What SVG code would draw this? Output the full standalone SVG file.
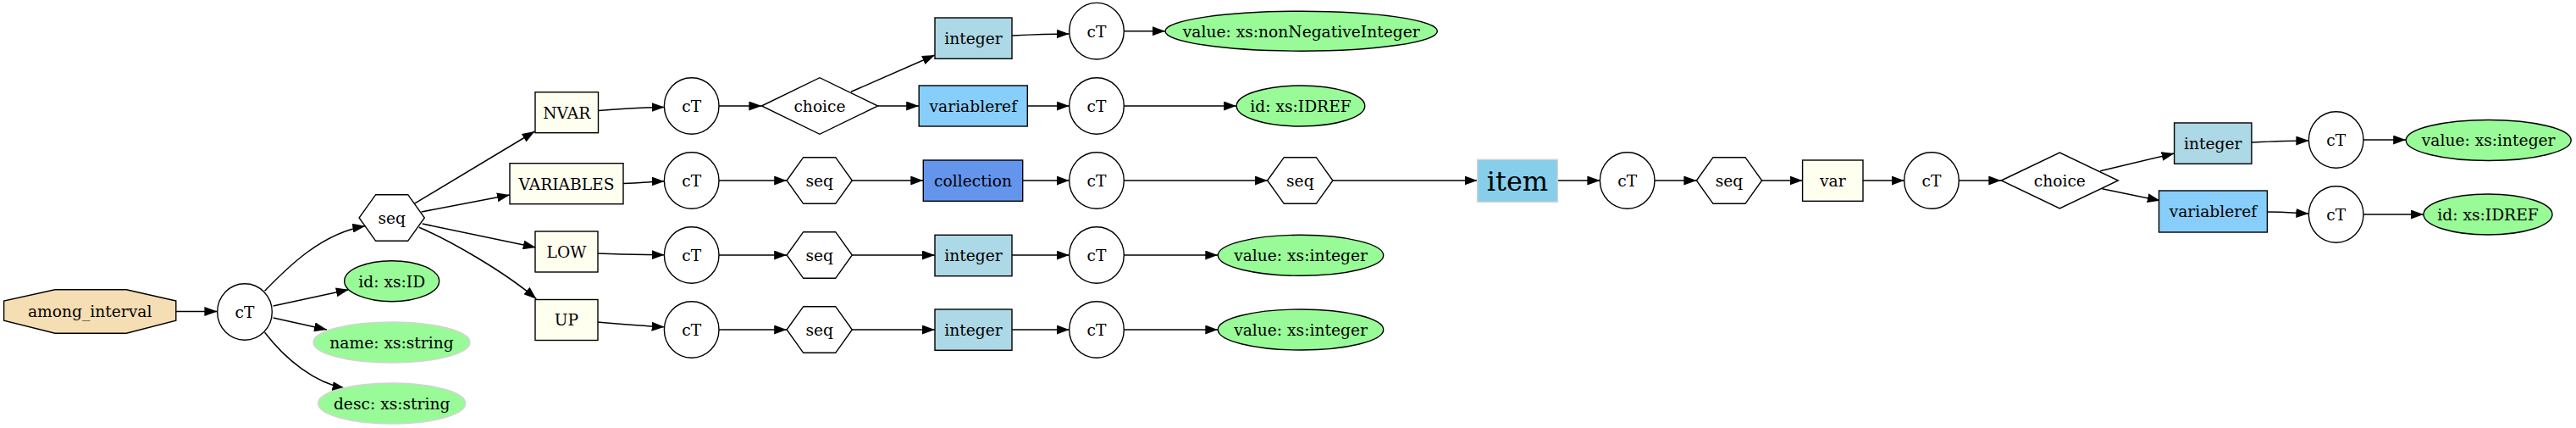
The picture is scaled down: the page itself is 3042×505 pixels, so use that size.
<svg xmlns="http://www.w3.org/2000/svg" xmlns:xlink="http://www.w3.org/1999/xlink" width="3042" height="505" viewBox="0 0 3042 505">
<style>
text{font-family:"DejaVu Serif","Liberation Serif",serif;font-size:18.67px;text-anchor:middle;fill:#000}
.n{stroke:#000;stroke-width:1.4}
.w{fill:#fff}
.iv{fill:#fffff0}
.ib{fill:#add8e6}
.vr{fill:#87cefa}
.gr{fill:#98fb98}
.gl{fill:#98fb98;stroke:#d3d3d3;stroke-width:1.4}
.e{fill:none;stroke:#000;stroke-width:1.5;marker-end:url(#ah)}
</style>
<defs>
<marker id="ah" markerUnits="userSpaceOnUse" markerWidth="15" markerHeight="11" viewBox="0 0 15 11" refX="15" refY="5.5" orient="auto"><path d="M0,0 L15,5.5 L0,11 z" fill="#000"/></marker>
<polygon id="hex" points="-38.6,0 -19,-27.3 19,-27.3 38.6,0 19,27.3 -19,27.3" class="n w"/>
<ellipse id="ct" cx="0" cy="0" rx="32.3" ry="33.3" class="n w"/>
</defs>
<rect width="3042" height="505" fill="#fff"/>

<g id="connectors">
<path class="e" d="M207.8,367.5 L256.4,367.5"/>
<path class="e" d="M312.6,343.3 C340,315 380,275 431.3,266.7"/>
<path class="e" d="M322.6,361 L411.8,341.7"/>
<path class="e" d="M322.6,375 L386,389"/>
<path class="e" d="M312.6,392.3 C338,425 372,452 407.5,458.3"/>
<path class="e" d="M488.8,240.7 L631.5,155"/>
<path class="e" d="M497.6,250 L602,230"/>
<path class="e" d="M498.7,264 L632.7,292"/>
<path class="e" d="M494.9,268.3 C530,283 595,320 633.4,352.7"/>
<path class="e" d="M707,130.5 C740,128 760,126.5 784.6,126.5"/>
<path class="e" d="M736,216.5 C760,216 770,214 784.6,214"/>
<path class="e" d="M705.4,299 C740,300.5 765,300.7 784.6,300.7"/>
<path class="e" d="M705.4,380 C740,383 765,385 784.6,385.7"/>
<path class="e" d="M849,125 L899.4,125"/>
<path class="e" d="M849,213 L929.2,213"/>
<path class="e" d="M849,301 L929.2,301"/>
<path class="e" d="M849,389 L929.2,389"/>
<path class="e" d="M1005,108.3 L1104,65"/>
<path class="e" d="M1036.7,125 L1085.2,125"/>
<path class="e" d="M1006.1,213 L1090.3,213"/>
<path class="e" d="M1006.1,301 L1104,301"/>
<path class="e" d="M1006.1,389 L1104,389"/>
<path class="e" d="M1195,42 C1225,40.5 1240,40 1262.5,40"/>
<path class="e" d="M1213.3,125 L1262.7,125"/>
<path class="e" d="M1207.7,213 L1262.7,213"/>
<path class="e" d="M1195,301 L1262.7,301"/>
<path class="e" d="M1195,389 L1262.7,389"/>
<path class="e" d="M1327.3,36.7 L1376,36.7"/>
<path class="e" d="M1327.3,125 L1460.2,125"/>
<path class="e" d="M1327.3,213 L1497,213"/>
<path class="e" d="M1327.3,301 L1438.3,301"/>
<path class="e" d="M1327.3,389 L1438.3,389"/>
<path class="e" d="M1573.9,213 L1744.6,213"/>
<path class="e" d="M1839.3,213 L1889.4,213"/>
<path class="e" d="M1954,213 L2003.4,213"/>
<path class="e" d="M2080.6,213 L2128.6,213"/>
<path class="e" d="M2200,213 L2248.7,213"/>
<path class="e" d="M2313.3,213 L2363.3,213"/>
<path class="e" d="M2480.2,201.7 L2567.6,181"/>
<path class="e" d="M2482.4,222.7 L2550.8,236.7"/>
<path class="e" d="M2659,168 C2690,166.5 2705,166 2726.4,166"/>
<path class="e" d="M2677.4,250 C2700,250 2712,251.5 2726.4,252"/>
<path class="e" d="M2791,165 L2841.2,165"/>
<path class="e" d="M2791,253 L2862,253"/>
</g>

<g id="among_interval"><polygon class="n" fill="#f5deb3" points="207.8,355 149.2,341.7 65,341.7 4.6,355 4.6,378.3 65,393.3 149.2,393.3 207.8,378.3"/><text x="106.2" y="374.3">among_interval</text></g>
<g id="cT1"><use xlink:href="#ct" x="289" y="368"/><text x="289" y="374.8">cT</text></g>
<g id="seq1"><use xlink:href="#hex" x="462.7" y="257"/><text x="462.7" y="263.8">seq</text></g>
<g id="attr_id"><ellipse class="n gr" cx="462.7" cy="331.7" rx="56" ry="24"/><text x="462.7" y="338.5">id: xs:ID</text></g>
<g id="attr_name"><ellipse class="gl" cx="462.5" cy="404" rx="92.5" ry="24"/><text x="462.5" y="410.8">name: xs:string</text></g>
<g id="attr_desc"><ellipse class="gl" cx="462.7" cy="476" rx="87" ry="24"/><text x="462.7" y="482.8">desc: xs:string</text></g>

<g id="NVAR"><rect class="n iv" x="632" y="108.7" width="74.5" height="48"/><text x="669.2" y="139.5">NVAR</text></g>
<g id="VARIABLES"><rect class="n iv" x="602" y="192.7" width="134" height="48"/><text x="669" y="223.5">VARIABLES</text></g>
<g id="LOW"><rect class="n iv" x="632" y="273" width="74" height="48"/><text x="669" y="303.8">LOW</text></g>
<g id="UP"><rect class="n iv" x="632" y="353.5" width="74" height="48"/><text x="669" y="384.3">UP</text></g>

<g id="cT_nvar"><use xlink:href="#ct" x="816.7" y="125"/><text x="816.7" y="131.8">cT</text></g>
<g id="cT_variables"><use xlink:href="#ct" x="816.7" y="213"/><text x="816.7" y="219.8">cT</text></g>
<g id="cT_low"><use xlink:href="#ct" x="816.7" y="301"/><text x="816.7" y="307.8">cT</text></g>
<g id="cT_up"><use xlink:href="#ct" x="816.7" y="389"/><text x="816.7" y="395.8">cT</text></g>

<g id="choice1"><polygon class="n w" points="899.4,125 968,91.7 1036.7,125 968,158.3"/><text x="968" y="131.8">choice</text></g>
<g id="seq_variables"><use xlink:href="#hex" x="967.7" y="213"/><text x="967.7" y="219.8">seq</text></g>
<g id="seq_low"><use xlink:href="#hex" x="967.7" y="301"/><text x="967.7" y="307.8">seq</text></g>
<g id="seq_up"><use xlink:href="#hex" x="967.7" y="389"/><text x="967.7" y="395.8">seq</text></g>

<g id="integer_nvar"><rect class="n ib" x="1104" y="21" width="91" height="48.3"/><text x="1149.5" y="52">integer</text></g>
<g id="variableref_nvar"><rect class="n vr" x="1085.2" y="101" width="128.1" height="48"/><text x="1149.3" y="131.8">variableref</text></g>
<g id="collection"><rect class="n" fill="#6495ed" x="1090.3" y="189" width="117.4" height="48.3"/><text x="1149" y="219.8">collection</text></g>
<g id="integer_low"><rect class="n ib" x="1104" y="277.3" width="91" height="48.4"/><text x="1149.5" y="308.3">integer</text></g>
<g id="integer_up"><rect class="n ib" x="1104" y="365" width="91" height="48.3"/><text x="1149.5" y="395.8">integer</text></g>

<g id="cT_int_nvar"><use xlink:href="#ct" x="1295" y="36.7"/><text x="1295" y="43.5">cT</text></g>
<g id="cT_varref_nvar"><use xlink:href="#ct" x="1295" y="125"/><text x="1295" y="131.8">cT</text></g>
<g id="cT_collection"><use xlink:href="#ct" x="1295" y="213"/><text x="1295" y="219.8">cT</text></g>
<g id="cT_int_low"><use xlink:href="#ct" x="1295" y="301"/><text x="1295" y="307.8">cT</text></g>
<g id="cT_int_up"><use xlink:href="#ct" x="1295" y="389"/><text x="1295" y="395.8">cT</text></g>

<g id="val_nonneg"><ellipse class="n gr" cx="1536.7" cy="36.7" rx="160.7" ry="23.5"/><text x="1536.7" y="43.5">value: xs:nonNegativeInteger</text></g>
<g id="idref_nvar"><ellipse class="n gr" cx="1536" cy="125" rx="75.8" ry="24"/><text x="1536" y="131.8">id: xs:IDREF</text></g>
<g id="seq_collection"><use xlink:href="#hex" x="1535.3" y="213"/><text x="1535.3" y="219.8">seq</text></g>
<g id="val_low"><ellipse class="n gr" cx="1536" cy="301.3" rx="97.7" ry="24"/><text x="1536" y="308.1">value: xs:integer</text></g>
<g id="val_up"><ellipse class="n gr" cx="1536" cy="389" rx="97.7" ry="24"/><text x="1536" y="395.8">value: xs:integer</text></g>

<g id="item"><rect fill="#87ceeb" stroke="#d3d3d3" stroke-width="1.4" x="1744.6" y="188.3" width="94.7" height="50"/><text x="1792" y="225" style="font-size:32px">item</text></g>
<g id="cT_item"><use xlink:href="#ct" x="1921.7" y="213"/><text x="1921.7" y="219.8">cT</text></g>
<g id="seq_item"><use xlink:href="#hex" x="2042" y="213"/><text x="2042" y="219.8">seq</text></g>
<g id="var"><rect class="n iv" x="2128.6" y="189" width="71.4" height="48.3"/><text x="2164.3" y="219.8">var</text></g>
<g id="cT_var"><use xlink:href="#ct" x="2281" y="213"/><text x="2281" y="219.8">cT</text></g>
<g id="choice2"><polygon class="n w" points="2363.3,213 2432.3,180 2501.4,213 2432.3,246"/><text x="2432.3" y="219.8">choice</text></g>
<g id="integer_var"><rect class="n ib" x="2567.6" y="145" width="91.3" height="48.3"/><text x="2613.3" y="176">integer</text></g>
<g id="variableref_var"><rect class="n vr" x="2549.5" y="225" width="127.9" height="49"/><text x="2613.4" y="256.3">variableref</text></g>
<g id="cT_int_var"><use xlink:href="#ct" x="2758.7" y="165"/><text x="2758.7" y="171.8">cT</text></g>
<g id="cT_varref_var"><use xlink:href="#ct" x="2758.7" y="253"/><text x="2758.7" y="259.8">cT</text></g>
<g id="val_var"><ellipse class="n gr" cx="2938.7" cy="165.5" rx="97.5" ry="24"/><text x="2938.7" y="172.3">value: xs:integer</text></g>
<g id="idref_var"><ellipse class="n gr" cx="2938" cy="253" rx="76" ry="24"/><text x="2938" y="259.8">id: xs:IDREF</text></g>
</svg>
